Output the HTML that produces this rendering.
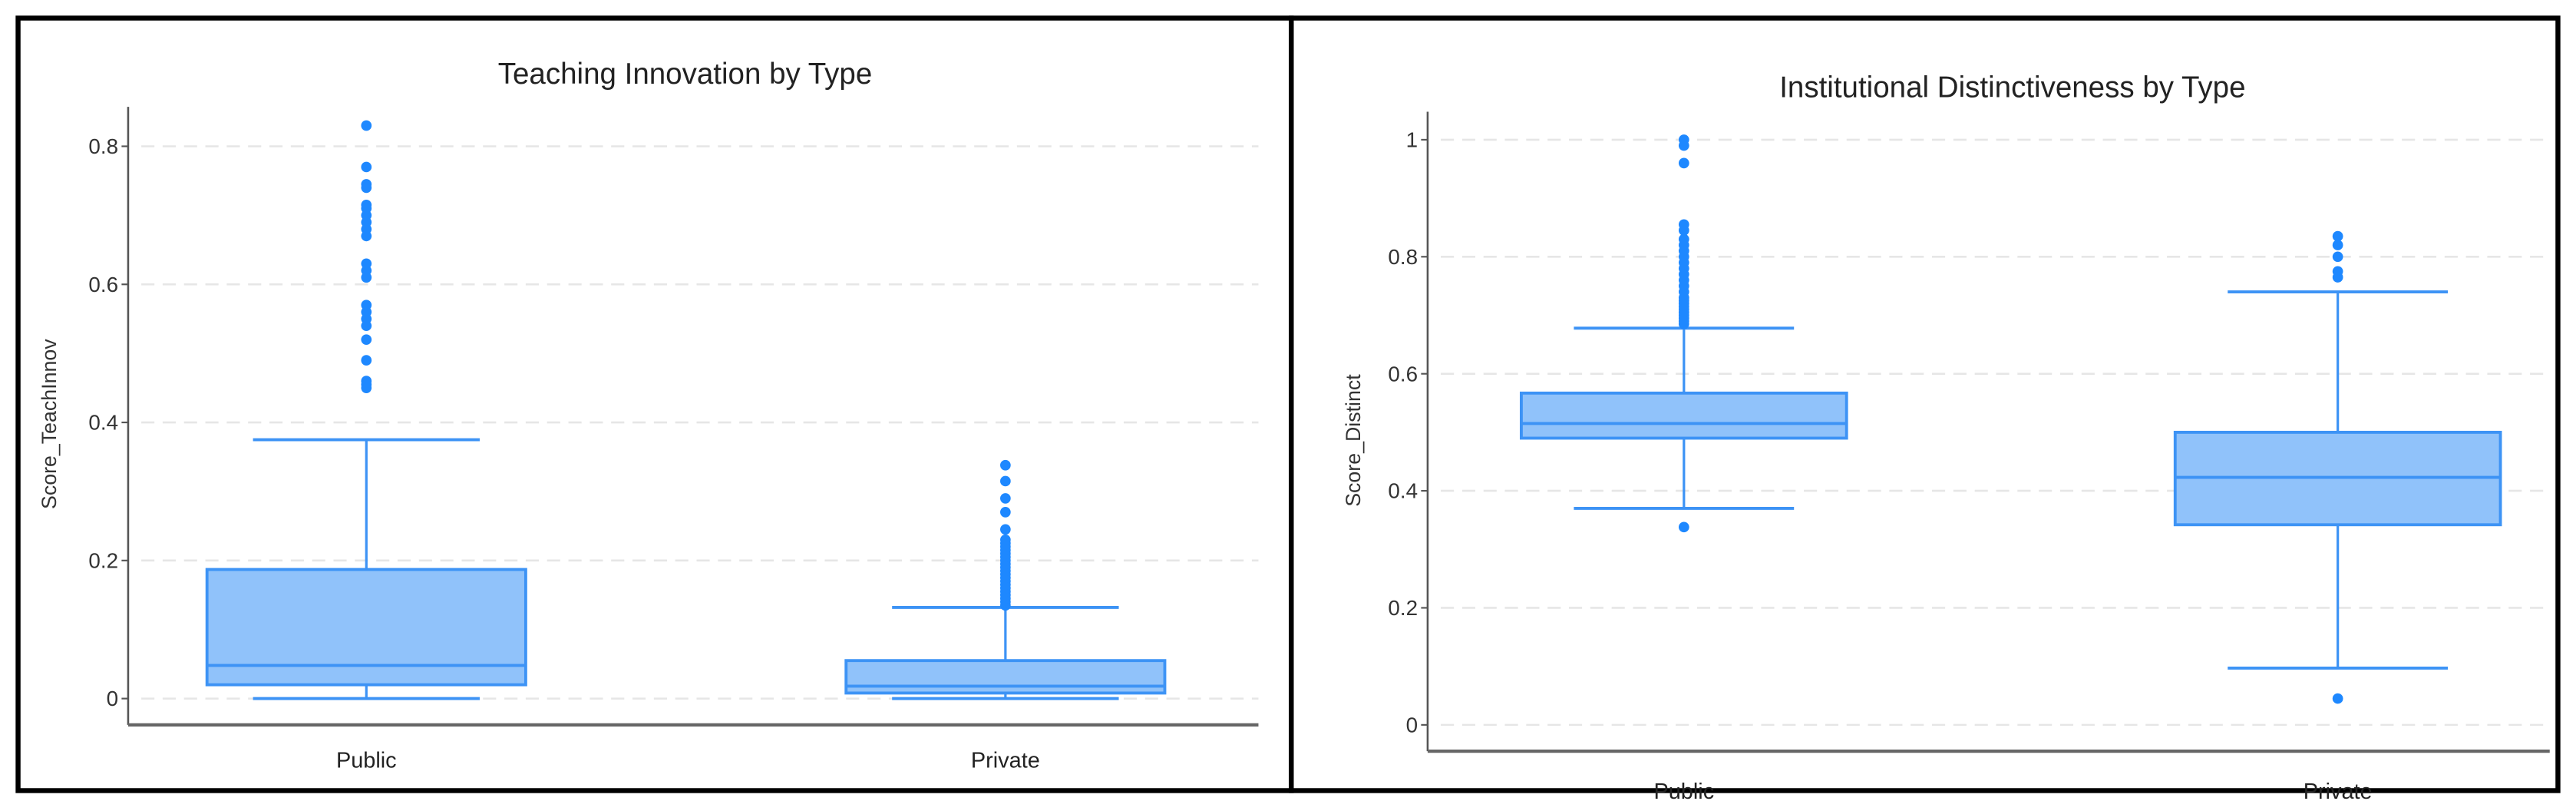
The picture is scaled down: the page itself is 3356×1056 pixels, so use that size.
<!DOCTYPE html>
<html><head><meta charset="utf-8"><style>
html,body{margin:0;padding:0;background:#fff;}
svg{display:block;font-family:"Liberation Sans",Arial,sans-serif;}
</style></head><body>
<svg id="chart" width="3356" height="1056" viewBox="0 0 1568 493.4" preserveAspectRatio="none" xmlns="http://www.w3.org/2000/svg">
<rect x="0" y="0" width="1568" height="493.4" fill="#fff"/>
<rect x="11" y="11" width="775" height="470" fill="none" stroke="#000" stroke-width="3"/>
<rect x="786" y="11" width="771" height="470" fill="none" stroke="#000" stroke-width="3"/>
<g id="g1"></g><g id="g2"></g>
</svg>
<script>
const categories = ["Public", "Private"];
// Teaching Innovation
const teachStats = [
  {lo:0, q1:0.02, med:0.048, q3:0.187, hi:0.375},
  {lo:0, q1:0.008, med:0.018, q3:0.055, hi:0.132}
];
const teachOutPublic = [0.45,0.455,0.46,0.49,0.52,0.54,0.55,0.56,0.57,0.61,0.62,0.63,0.67,0.68,0.69,0.70,0.71,0.715,0.74,0.745,0.77,0.83];
const teachOutPrivate = [0.135,0.14,0.145,0.15,0.155,0.16,0.165,0.17,0.175,0.18,0.185,0.19,0.195,0.2,0.205,0.21,0.215,0.22,0.225,0.23,0.245,0.27,0.29,0.315,0.338];
const teachTicks = [0,0.2,0.4,0.6,0.8];
const teachTickLabels = ["0","0.2","0.4","0.6","0.8"];
// Institutional Distinctiveness
const distStats = [
  {lo:0.37, q1:0.49, med:0.515, q3:0.567, hi:0.678},
  {lo:0.097, q1:0.342, med:0.423, q3:0.5, hi:0.74}
];
const distOutPublic = [0.338,0.685,0.69,0.695,0.70,0.705,0.71,0.715,0.72,0.725,0.73,0.74,0.75,0.76,0.77,0.78,0.79,0.80,0.81,0.82,0.83,0.845,0.855,0.96,0.99,1.0];
const distOutPrivate = [0.045,0.765,0.775,0.80,0.82,0.835];
const distTicks = [0,0.2,0.4,0.6,0.8,1];
const distTickLabels = ["0","0.2","0.4","0.6","0.8","1"];

const NS="http://www.w3.org/2000/svg";
function mk(parent,tag,attrs,text){const e=document.createElementNS(NS,tag);for(const k in attrs)e.setAttribute(k,attrs[k]);if(text!=null)e.textContent=text;parent.appendChild(e);return e;}

function drawChart(g,cfg){
  const y=v=>cfg.y0+(cfg.y1-cfg.y0)*(v-cfg.v0)/(cfg.v1-cfg.v0);
  const xC=i=>cfg.centers[i];
  const t=mk(g,'text',{x:cfg.titleX,y:cfg.titleY,'text-anchor':'middle','font-size':18,fill:'#222'},cfg.title);
  
  
  cfg.ticks.forEach((v,i)=>{
    const gl=mk(g,'line',{x1:cfg.ax+8,x2:cfg.ax2,y1:y(v),y2:y(v),stroke:'#e6e6e6','stroke-width':1.2,'stroke-dasharray':'8,5'});
    
    
    mk(g,'line',{x1:cfg.ax-4,x2:cfg.ax,y1:y(v),y2:y(v),stroke:'#555','stroke-width':1});
    const tl=mk(g,'text',{x:cfg.ax-6,y:y(v)+4.5,'text-anchor':'end','font-size':13,fill:'#333'},cfg.tickLabels[i]);
    
    
  });
  const ya=mk(g,'line',{x1:cfg.ax,x2:cfg.ax,y1:cfg.axTop,y2:cfg.axBot,stroke:'#555','stroke-width':1.2});
  
  
  const xa=mk(g,'line',{x1:cfg.ax,x2:cfg.ax2,y1:cfg.axBot,y2:cfg.axBot,stroke:'#666','stroke-width':2});
  
  
  const yt=mk(g,'text',{x:0,y:0,transform:`translate(${cfg.ytX},${cfg.ytY}) rotate(-90)`,'text-anchor':'middle','font-size':12.5,fill:'#333'},cfg.yTitle);
  
  
  const stroke='#3d93f5';
  cfg.stats.forEach((s,i)=>{
    const cx=xC(i), hw=cfg.boxW/2, ww=cfg.whW/2;
    const bg=mk(g,'g',{});
    
    
    mk(bg,'line',{x1:cx,x2:cx,y1:y(s.hi),y2:y(s.q3),stroke:stroke,'stroke-width':1.5});
    mk(bg,'line',{x1:cx,x2:cx,y1:y(s.q1),y2:y(s.lo),stroke:stroke,'stroke-width':1.5});
    mk(bg,'line',{x1:cx-ww,x2:cx+ww,y1:y(s.hi),y2:y(s.hi),stroke:stroke,'stroke-width':1.8});
    mk(bg,'line',{x1:cx-ww,x2:cx+ww,y1:y(s.lo),y2:y(s.lo),stroke:stroke,'stroke-width':1.8});
    mk(bg,'rect',{x:cx-hw,y:y(s.q3),width:2*hw,height:y(s.q1)-y(s.q3),fill:'#90c2fa',stroke:stroke,'stroke-width':1.8});
    mk(bg,'line',{x1:cx-hw,x2:cx+hw,y1:y(s.med),y2:y(s.med),stroke:stroke,'stroke-width':1.8});
    cfg.outliers[i].forEach(v=>{
      const c=mk(g,'circle',{cx:cx,cy:y(v),r:3.2,fill:'#1e88ff'});
      
      
    });
    const xl=mk(g,'text',{x:cx,y:cfg.xlY,'text-anchor':'middle','font-size':13.5,fill:'#222'},categories[i]);
    
    
  });
}
drawChart(document.getElementById('g1'),{
  title:'Teaching Innovation by Type',titleX:417,titleY:51,
  v0:0,v1:0.8,y0:425,y1:89,ax:78,ax2:766,axTop:65,axBot:441,
  centers:[223,612],boxW:194,whW:138,ticks:teachTicks,tickLabels:teachTickLabels,
  stats:teachStats,outliers:[teachOutPublic,teachOutPrivate],
  yTitle:'Score_TeachInnov',ytX:34,ytY:258,xlY:467
});
drawChart(document.getElementById('g2'),{
  title:'Institutional Distinctiveness by Type',titleX:1225,titleY:59,
  v0:0,v1:1,y0:441,y1:85,ax:869,ax2:1552,axTop:68,axBot:457,
  centers:[1025,1423],boxW:198,whW:134,ticks:distTicks,tickLabels:distTickLabels,
  stats:distStats,outliers:[distOutPublic,distOutPrivate],
  yTitle:'Score_Distinct',ytX:828,ytY:268,xlY:486
});
</script>
</body></html>
